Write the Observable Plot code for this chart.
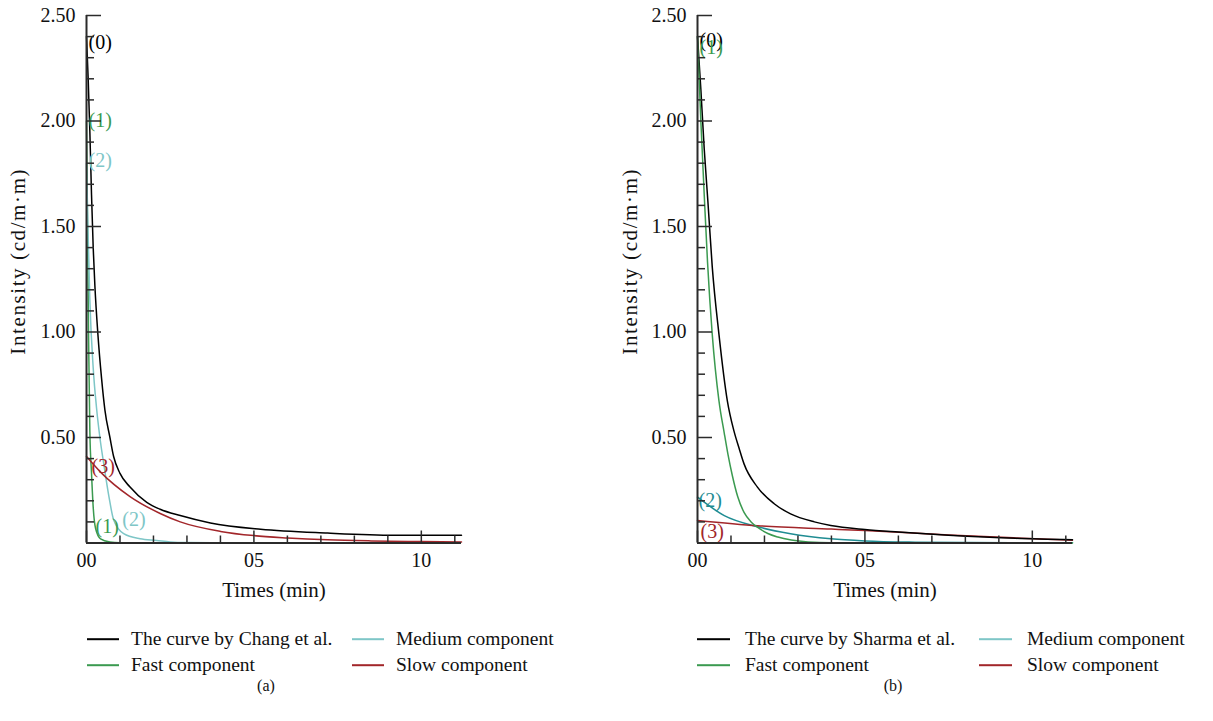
<!DOCTYPE html>
<html><head><meta charset="utf-8">
<script src="https://cdn.jsdelivr.net/npm/d3@7"></script>
<script src="https://cdn.jsdelivr.net/npm/@observablehq/plot@0.6"></script>
<style>
html,body{margin:0;padding:0;background:#fff;}
#page{position:relative;width:1213px;height:721px;font-family:"Liberation Serif",serif;color:#111;}
.chart{position:absolute;top:0;}
.sw{position:absolute;height:1.6px;transform:translateY(-50%);}
.tx{position:absolute;transform:translateY(-50%);font-size:19.5px;line-height:24px;white-space:nowrap;}
.cap{position:absolute;font-size:16px;transform:translate(-50%,-50%);}
</style></head><body>
<div id="page"></div>
<script>
// ---------- data ----------
const seriesKeys = ["total", "fast", "medium", "slow"];
const legendA = ["The curve by Chang et al.", "Fast component", "Medium component", "Slow component"];
const legendB = ["The curve by Sharma et al.", "Fast component", "Medium component", "Slow component"];

// Panel (a)
const aTotalT = [0, 0.05, 0.1, 0.15, 0.2, 0.25, 0.34, 0.45, 0.55, 0.7, 0.81, 1.0, 1.3, 1.8, 2.2, 2.8, 3.7, 5.2, 7.2, 9.2, 11.2];
const aTotalI = [2.40, 2.2, 1.95, 1.65, 1.40, 1.22, 0.99, 0.78, 0.63, 0.5, 0.41, 0.33, 0.265, 0.193, 0.16, 0.13, 0.095, 0.065, 0.047, 0.037, 0.037];
const aFastT = [0, 0.03, 0.06, 0.1, 0.15, 0.2, 0.27, 0.42, 0.7, 1.0, 1.6, 2.5];
const aFastI = [2.0, 1.5, 1.0, 0.53, 0.33, 0.17, 0.07, 0.02, 0.005, 0.001, 0, 0];
const aMedT = [0, 0.05, 0.1, 0.2, 0.3, 0.4, 0.52, 0.67, 0.81, 1.11, 1.6, 2.1, 2.5, 3.0, 5.0, 8.2];
const aMedI = [1.8, 1.45, 1.15, 0.83, 0.64, 0.5, 0.37, 0.22, 0.11, 0.044, 0.02, 0.012, 0.005, 0.002, 0, 0];
const aSlowT = [0, 0.42, 1.3, 2.2, 2.8, 4.0, 5.0, 6.0, 7.2, 8.5, 10, 11.2];
const aSlowI = [0.41, 0.336, 0.22, 0.14, 0.1, 0.055, 0.035, 0.024, 0.015, 0.01, 0.007, 0.005];

// Panel (b)
const bTotalT = [0, 0.1, 0.2, 0.31, 0.44, 0.64, 0.89, 1.09, 1.24, 1.39, 1.79, 2.29, 2.78, 3.49, 3.98, 5, 6, 7.5, 9.5, 11.2];
const bTotalI = [2.40, 2.15, 1.87, 1.62, 1.31, 0.99, 0.675, 0.53, 0.45, 0.375, 0.265, 0.186, 0.138, 0.1, 0.083, 0.064, 0.052, 0.037, 0.022, 0.015];
const bFastT = [0, 0.1, 0.21, 0.3, 0.44, 0.64, 0.8, 0.91, 1.04, 1.2, 1.39, 1.6, 1.79, 2.1, 2.4, 2.8, 3.3, 4, 11.2];
const bFastI = [2.40, 2.0, 1.62, 1.33, 0.99, 0.675, 0.52, 0.42, 0.32, 0.22, 0.145, 0.1, 0.075, 0.045, 0.028, 0.014, 0.005, 0.001, 0];
const bMedT = [0, 0.8, 1.8, 2.78, 3.98, 5, 6.5, 8, 11.2];
const bMedI = [0.217, 0.13, 0.077, 0.044, 0.02, 0.01, 0.004, 0.002, 0.001];
const bSlowT = [0, 1.8, 4, 5, 7.5, 9.5, 11.2];
const bSlowI = [0.107, 0.082, 0.066, 0.059, 0.038, 0.024, 0.013];

// axes
const yMajor = [0.5, 1.0, 1.5, 2.0, 2.5];
const yMinor = d3.range(1, 25).map(i => i / 10).filter(v => Math.abs(v * 2 - Math.round(v * 2)) > 1e-6);
const xMajor = [0, 5, 10];
const xMajorLabels = ["00", "05", "10"];
const xMinor = [1, 2, 3, 4, 6, 7, 8, 9, 11];
const yLabel = "Intensity (cd/m·m)";
const xLabel = "Times (min)";

// curve labels (annotations)
const aNotes = [
  {t: 0.06, v: 2.37, s: "(0)", k: "total"},
  {t: 0.06, v: 2.00, s: "(1)", k: "fast"},
  {t: 0.06, v: 1.81, s: "(2)", k: "medium"},
  {t: 0.15, v: 0.36, s: "(3)", k: "slow"},
  {t: 0.27, v: 0.08, s: "(1)", k: "fast"},
  {t: 1.07, v: 0.11, s: "(2)", k: "medium"}
];
const bNotes = [
  {t: 0.06, v: 2.38, s: "(0)", k: "total"},
  {t: 0.06, v: 2.35, s: "(1)", k: "fast"},
  {t: 0.03, v: 0.20, s: "(2)", k: "medium"},
  {t: 0.09, v: 0.055, s: "(3)", k: "slow"}
];

const colorsA = {total: "#000000", fast: "#3b9a50", medium: "#7ec6c7", slow: "#a2262a"};
const colorsB = {total: "#000000", fast: "#3b9a50", medium: "#1f8c92", slow: "#a2262a"};
const legendSwatchB = {total: "#000000", fast: "#3b9a50", medium: "#7ec6c7", slow: "#a2262a"};

function rows(T, I) { return T.map((t, i) => ({t, v: I[i]})); }

function makePanel(cfg) {
  const W = cfg.width, H = 610, mt = 15, mb = 67.5;
  const pw = W - cfg.ml - cfg.mr, ph = H - mt - mb;
  const axisColor = "#2b2b2b";
  const lineMarks = cfg.order.map(k => Plot.line(rows(cfg.data[k][0], cfg.data[k][1]), {
    x: "t", y: "v", stroke: cfg.colors[k], strokeWidth: 1.5, curve: "monotone-x"
  }));
  const svg = Plot.plot({
    width: W, height: H, marginLeft: cfg.ml, marginRight: cfg.mr, marginTop: mt, marginBottom: mb,
    x: {domain: [0, 11.2]}, y: {domain: [0, 2.5]},
    style: {fontFamily: "'Liberation Serif', serif", fontSize: "20px", color: "#111", background: "white", overflow: "visible"},
    marks: [
      ...lineMarks,
      Plot.text(cfg.notes, {x: "t", y: "v", text: "s", fill: d => cfg.colors[d.k], textAnchor: "start", fontSize: 20}),
      Plot.ruleX([0], {stroke: axisColor, strokeWidth: 2}),
      Plot.ruleY([0], {stroke: axisColor, strokeWidth: 2}),
      Plot.tickY(yMajor, {y: d => d, insetRight: pw - 15, stroke: axisColor, strokeWidth: 1.5}),
      Plot.tickY(yMinor, {y: d => d, insetRight: pw - 8, stroke: axisColor, strokeWidth: 1.5}),
      Plot.tickX(xMajor, {x: d => d, insetTop: ph - 12, stroke: axisColor, strokeWidth: 1.5}),
      Plot.tickX(xMinor, {x: d => d, insetTop: ph - 7, stroke: axisColor, strokeWidth: 1.5}),
      Plot.axisY(yMajor, {tickSize: 0, tickPadding: 11, tickFormat: d => d.toFixed(2), label: null, fontSize: 20}),
      Plot.axisX(xMajor, {tickSize: 0, tickPadding: 10, tickFormat: (d, i) => xMajorLabels[i], label: null, fontSize: 20}),
      Plot.text([yLabel], {frameAnchor: "left", textAnchor: "middle", dx: cfg.ylabX - cfg.ml, dy: -18, rotate: -90, fontSize: 21}),
      Plot.text([xLabel], {frameAnchor: "bottom", textAnchor: "middle", dy: 53.5, fontSize: 21})
    ]
  });
  // slightly spaced y label, as in the reference
  svg.querySelectorAll("text").forEach(t => {
    if (t.textContent === yLabel) t.setAttribute("letter-spacing", "1.6");
  });
  return svg;
}

const page = document.getElementById("page");

function addPanel(left, cfg, legendNames, swatchColors, caption, capX, leg) {
  const svg = makePanel(cfg);
  const div = document.createElement("div");
  div.className = "chart";
  div.style.left = left + "px";
  div.appendChild(svg);
  page.appendChild(div);
  const pos = [[0, 0], [0, 1], [1, 0], [1, 1]]; // [col,row] for total, fast, medium, slow
  seriesKeys.forEach((k, i) => {
    const [c, r] = pos[i];
    const y = 639 + r * 26;
    const line = document.createElement("div");
    line.className = "sw";
    line.style.left = leg.swX[c] + "px"; line.style.top = y + "px";
    line.style.width = leg.swW + "px";
    line.style.background = swatchColors[k];
    const tx = document.createElement("div");
    tx.className = "tx";
    tx.style.left = leg.txX[c] + "px"; tx.style.top = y + "px";
    tx.textContent = legendNames[i];
    page.appendChild(line); page.appendChild(tx);
  });
  const cap = document.createElement("div");
  cap.className = "cap";
  cap.style.left = capX + "px"; cap.style.top = "686px";
  cap.textContent = caption;
  page.appendChild(cap);
}

addPanel(0, {
  width: 606, ml: 86, mr: 145, ylabX: 18,
  data: {total: [aTotalT, aTotalI], fast: [aFastT, aFastI], medium: [aMedT, aMedI], slow: [aSlowT, aSlowI]},
  order: ["fast", "medium", "slow", "total"],
  colors: colorsA, notes: aNotes
}, legendA, colorsA, "(a)", 266, {swX: [87, 352], swW: 32, txX: [131, 396]});

addPanel(606, {
  width: 607, ml: 91, mr: 141, ylabX: 24,
  data: {total: [bTotalT, bTotalI], fast: [bFastT, bFastI], medium: [bMedT, bMedI], slow: [bSlowT, bSlowI]},
  order: ["medium", "slow", "total", "fast"],
  colors: colorsB, notes: bNotes
}, legendB, legendSwatchB, "(b)", 893, {swX: [697, 979], swW: 33, txX: [745, 1027]});
</script>
</body></html>
